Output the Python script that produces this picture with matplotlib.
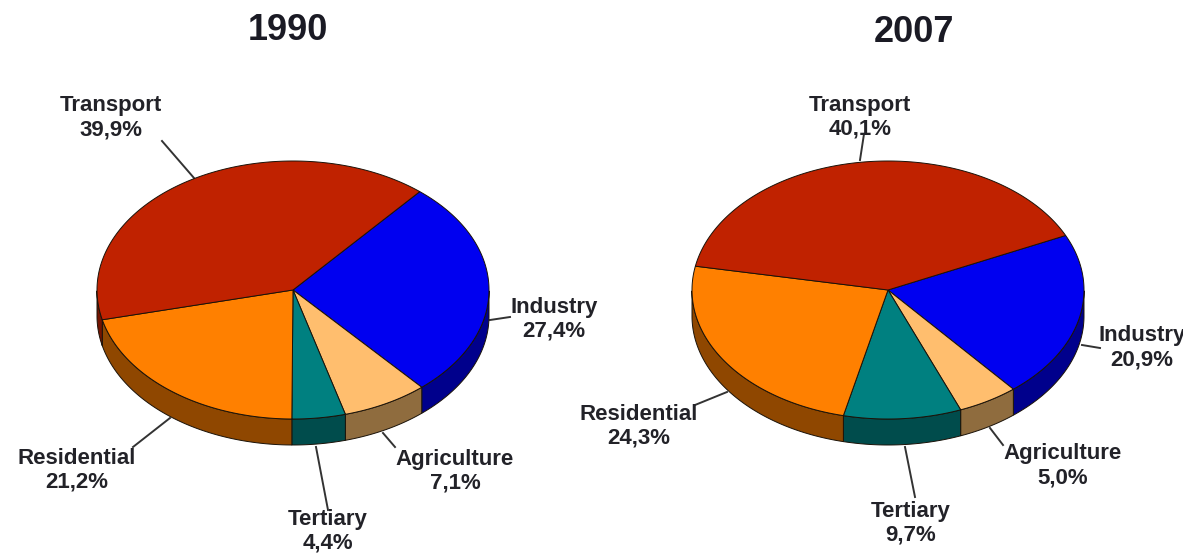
import numpy as np
import matplotlib
matplotlib.use("Agg")
from matplotlib import pyplot as plt
from matplotlib.patches import Polygon, Rectangle

plt.rcParams['font.family'] = ['Liberation Sans', 'DejaVu Sans']

categories = ["Industry", "Agriculture", "Tertiary", "Residential", "Transport"]
values_1990 = [27.4, 7.1, 4.4, 21.2, 39.9]
values_2007 = [20.9, 5.0, 9.7, 24.3, 40.1]

top_colors = ["#0000F0", "#FFBE6E", "#008080", "#FF8000", "#C02200"]
side_colors = ["#00008C", "#8F6C3E", "#004C4C", "#8F4700", "#741400"]

RX, RY, DEPTH = 196, 129, 26
TEXT = "#222228"


def ellipse(cx, cy, a):
    return cx + RX * np.cos(a), cy - RY * np.sin(a)


def draw_pie(ax, cx, cy, start, values):
    sweep = np.array(values) / sum(values) * 360
    edges = start - np.concatenate([[0], np.cumsum(sweep)])

    # rim first, only the part facing the viewer
    for i in range(len(values)):
        a0, a1 = edges[i], edges[i + 1]
        a = np.radians(np.linspace(a0, a1, 200))
        a = a[np.sin(a) <= 0]
        if len(a) < 2:
            continue
        x, y = ellipse(cx, cy, a)
        pts = np.r_[np.c_[x, y], np.c_[x[::-1], y[::-1] + DEPTH]]
        ax.add_patch(Polygon(pts, fc=side_colors[i], ec="#1a1208", lw=0.7, zorder=2))

    for i in range(len(values)):
        a = np.radians(np.linspace(edges[i], edges[i + 1], 200))
        x, y = ellipse(cx, cy, a)
        pts = np.r_[[[cx, cy]], np.c_[x, y]]
        ax.add_patch(Polygon(pts, fc=top_colors[i], ec="#1a1208", lw=0.7, zorder=3))


def draw_labels(ax, values, label_pos, leaders):
    for name, v, (lx, ly), seg in zip(categories, values, label_pos, leaders):
        txt = f"{v:.1f}%".replace(".", ",")
        ax.text(lx, ly + 1, name, ha="center", va="center", fontsize=16, fontweight="bold", color=TEXT, zorder=5)
        ax.text(lx, ly + 25, txt, ha="center", va="center", fontsize=16, fontweight="bold", color=TEXT, zorder=5)
        ax.plot([seg[0], seg[2]], [seg[1], seg[3]], color="#333333", lw=1.4, zorder=1)


fig = plt.figure(figsize=(11.95, 5.55), dpi=100)
ax = fig.add_axes([0, 0, 1, 1])
ax.set_xlim(0, 1195)
ax.set_ylim(555, 0)
ax.axis("off")

draw_pie(ax, 293, 290, 49.7, values_1990)
draw_pie(ax, 888, 290, 25.0, values_2007)

labels_1990 = [(554, 306), (455, 458), (328, 518), (77, 457), (111, 105)]
leaders_1990 = [(490, 320, 510, 317), (383, 433, 395, 447), (316, 447, 328, 510),
                (170, 418, 133, 447), (162, 141, 194, 178)]
labels_2007 = [(1142, 335), (1063, 453), (911, 510), (639, 413), (860, 104)]
leaders_2007 = [(1082, 345, 1100, 348), (990, 428, 1003, 445), (905, 447, 915, 497),
                (727, 392, 695, 405), (864, 134, 860, 160)]

draw_labels(ax, values_1990, labels_1990, leaders_1990)
draw_labels(ax, values_2007, labels_2007, leaders_2007)

ax.text(288, 31, "1990", ha="center", va="center", fontsize=26, fontweight="bold", color="#1a1a24")
ax.text(914, 33, "2007", ha="center", va="center", fontsize=26, fontweight="bold", color="#1a1a24")

# the source image cuts off the right hand label
ax.add_patch(Rectangle((1183, 0), 12, 555, fc="white", ec="none", zorder=6))

fig.savefig("out.png", dpi=100)
